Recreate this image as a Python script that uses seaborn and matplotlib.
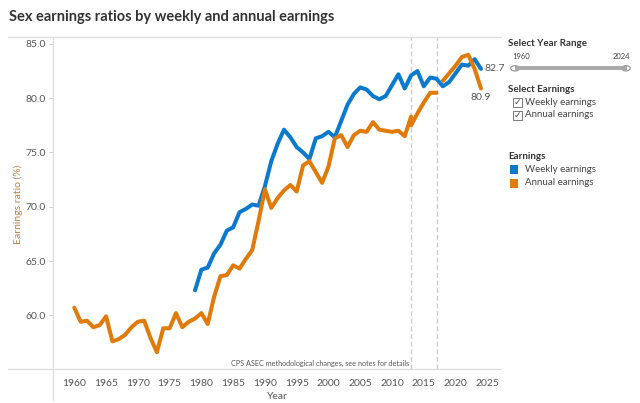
import matplotlib
matplotlib.use("Agg")
import matplotlib.pyplot as plt
import numpy as np
import pandas as pd
import seaborn as sns
from matplotlib.lines import Line2D
from matplotlib.patches import Rectangle, Circle

# ---------------- data ----------------
weekly_years = list(range(1979, 2025))
weekly_ratio = [62.3, 64.2, 64.4, 65.7, 66.5, 67.8, 68.1, 69.5, 69.8, 70.2,
                70.1, 71.9, 74.2, 75.8, 77.1, 76.4, 75.5, 75.0, 74.4, 76.3,
                76.5, 76.9, 76.4, 77.9, 79.4, 80.4, 81.0, 80.8, 80.2, 79.9,
                80.2, 81.2, 82.2, 80.9, 82.1, 82.5, 81.1, 81.9, 81.8, 81.1,
                81.5, 82.3, 83.1, 83.0, 83.6, 82.7]

annual_years_a = list(range(1960, 2014))
annual_ratio_a = [60.7, 59.4, 59.5, 58.9, 59.1, 59.9, 57.6, 57.8, 58.2, 58.9,
                  59.4, 59.5, 57.9, 56.6, 58.8, 58.8, 60.2, 58.9, 59.4, 59.7,
                  60.2, 59.2, 61.7, 63.6, 63.7, 64.6, 64.3, 65.2, 66.0, 68.7,
                  71.6, 69.9, 70.8, 71.5, 72.0, 71.4, 73.8, 74.2, 73.2, 72.2,
                  73.7, 76.3, 76.6, 75.5, 76.6, 77.0, 76.9, 77.8, 77.1, 77.0,
                  76.9, 77.0, 76.5, 78.3]
annual_years_b = [2013, 2014, 2015, 2016, 2017]
annual_ratio_b = [77.5, 78.6, 79.6, 80.5, 80.5]
annual_years_c = [2018, 2019, 2020, 2021, 2022, 2023, 2024]
annual_ratio_c = [81.6, 82.3, 83.0, 83.8, 84.0, 82.7, 80.9]

method_change_years = [2013, 2017]
x_ticks = list(range(1960, 2030, 5))
y_ticks = [60, 65, 70, 75, 80, 85]

BLUE = "#0b79cc"
ORANGE = "#e07b0a"

rows = []
for y, v in zip(weekly_years, weekly_ratio):
    rows.append(("Weekly earnings", "w", y, v))
for seg, (ys, vs) in zip("abc", [(annual_years_a, annual_ratio_a),
                                  (annual_years_b, annual_ratio_b),
                                  (annual_years_c, annual_ratio_c)]):
    for y, v in zip(ys, vs):
        rows.append(("Annual earnings", seg, y, v))
df = pd.DataFrame(rows, columns=["Earnings", "Segment", "Year", "Ratio"])

# ---------------- figure ----------------
sns.set_style("white")
plt.rcParams["font.family"] = ["Lato", "DejaVu Sans"]

W, H = 640, 403
fig = plt.figure(figsize=(6.4, 4.03), dpi=100)

def fx(x):
    return x / W

def fy(y):
    return 1 - y / H

ax = fig.add_axes([fx(53), fy(369), fx(501) - fx(53), fy(37) - fy(369)])

sns.lineplot(data=df[df["Earnings"] == "Weekly earnings"], x="Year", y="Ratio",
             units="Segment", estimator=None, color=BLUE, linewidth=2.9,
             ax=ax, legend=False, solid_capstyle="round", zorder=3)
sns.lineplot(data=df[df["Earnings"] == "Annual earnings"], x="Year", y="Ratio",
             units="Segment", estimator=None, color=ORANGE, linewidth=2.9,
             ax=ax, legend=False, solid_capstyle="round", zorder=4)

ax.set_xlim(1956.65, 2027.15)
ax.set_ylim(55.05, 85.64)
for yr in method_change_years:
    ax.axvline(yr, color="#cccccc", lw=1.0, ls=(0, (3.5, 2)), zorder=1)

ax.set_xticks(x_ticks)
ax.set_xticklabels([str(t) for t in x_ticks])
ax.set_yticks(y_ticks)
ax.set_yticklabels([f"{t:.1f}" for t in y_ticks])
ax.tick_params(axis="x", length=0, labelsize=7.5, colors="#555555", pad=7)
ax.tick_params(axis="y", length=3, width=0.8, color="#d0d0d0", labelsize=7.5,
               labelcolor="#555555", pad=2, left=True)
for s in ax.spines.values():
    s.set_visible(False)
ax.set_xlabel("Year", fontsize=7.5, color="#555555", labelpad=3)
ax.set_ylabel("")

ax.text(2012.75, 55.25, "CPS ASEC methodological changes, see notes for details",
        ha="right", va="bottom", fontsize=5.2, color="#555555")

ax.text(2024.5, 82.75, "82.7", ha="left", va="center", fontsize=7.5, color="#555555")
ax.text(2024.0, 80.45, "80.9", ha="center", va="top", fontsize=7.5, color="#555555")

# pane borders
fig.add_artist(Line2D([fx(8), fx(501)], [fy(37), fy(37)], color="#dcdcdc", lw=0.9))
fig.add_artist(Line2D([fx(8), fx(501)], [fy(369), fy(369)], color="#dcdcdc", lw=0.9))
fig.add_artist(Line2D([fx(53), fx(53)], [fy(37), fy(400)], color="#dcdcdc", lw=0.9))

# y label
fig.text(fx(18), fy(204), "Earnings ratio (%)", rotation=90, ha="center", va="center",
         fontsize=7.5, color="#b9804a")

# title
fig.text(fx(9), fy(17), "Sex earnings ratios by weekly and annual earnings",
         ha="left", va="center", fontsize=10.5, fontweight="bold", color="#333333")

# ---------------- right panel ----------------
fig.text(fx(508), fy(43), "Select Year Range", ha="left", va="center",
         fontsize=7, fontweight="bold", color="#333333")
fig.text(fx(512), fy(56.5), "1960", ha="left", va="center", fontsize=5.5, color="#444444")
fig.text(fx(630), fy(56.5), "2024", ha="right", va="center", fontsize=5.5, color="#444444")
fig.add_artist(Line2D([fx(515), fx(627)], [fy(68.3), fy(68.3)], color="#a8a8a8", lw=2.8,
                      solid_capstyle="butt"))
for hx in (515, 626):
    fig.add_artist(Circle((fx(hx), fy(68.3)), 4.2 / W, transform=fig.transFigure,
                          facecolor="white", edgecolor="#8c8c8c", lw=0.8))

fig.text(fx(508), fy(89.5), "Select Earnings", ha="left", va="center",
         fontsize=7, fontweight="bold", color="#333333")
for cy, lab in ((102.5, "Weekly earnings"), (115, "Annual earnings")):
    fig.add_artist(Rectangle((fx(512.5), fy(cy + 4.5)), 9 / W, 9 / H, transform=fig.transFigure,
                             facecolor="white", edgecolor="#777777", lw=0.7))
    fig.text(fx(517), fy(cy), "\u2713", ha="center", va="center", fontsize=6.5,
             color="#444444", family="DejaVu Sans")
    fig.text(fx(525), fy(cy), lab, ha="left", va="center", fontsize=7, color="#444444")

fig.text(fx(508), fy(156.5), "Earnings", ha="left", va="center",
         fontsize=7, fontweight="bold", color="#333333")
for cy, lab, col in ((170, "Weekly earnings", BLUE), (183, "Annual earnings", ORANGE)):
    fig.add_artist(Rectangle((fx(510), fy(cy + 4.5)), 7.5 / W, 9 / H, transform=fig.transFigure,
                             facecolor=col, edgecolor="none"))
    fig.text(fx(525), fy(cy), lab, ha="left", va="center", fontsize=7, color="#444444")

fig.savefig("out.png", dpi=100)
